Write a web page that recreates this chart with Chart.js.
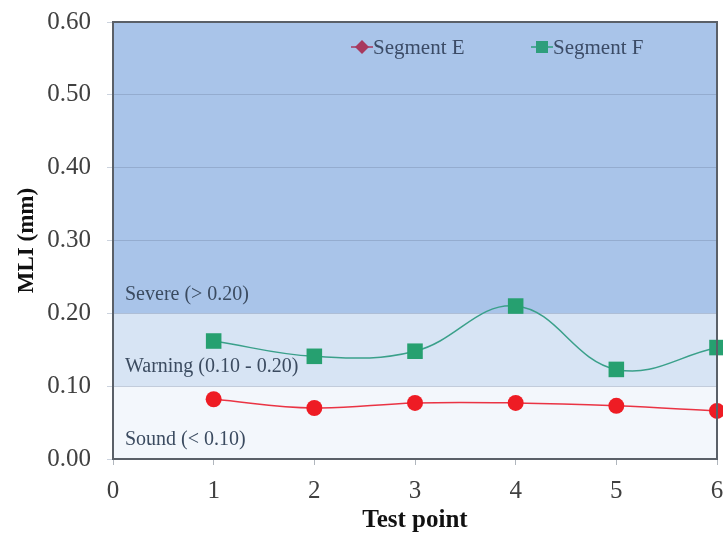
<!DOCTYPE html>
<html>
<head>
<meta charset="utf-8">
<script src="https://cdn.jsdelivr.net/npm/chart.js@4/dist/chart.umd.min.js"></script>
<style>
html,body{margin:0;padding:0;background:#fff;}
#wrap{width:723px;height:534px;}
</style>
</head>
<body>
<div id="wrap"><canvas id="c" width="723" height="534"></canvas></div>
<script>
const testPoints = [1, 2, 3, 4, 5, 6];
const segmentE = [0.082, 0.070, 0.077, 0.077, 0.073, 0.066];
const segmentF = [0.162, 0.141, 0.148, 0.210, 0.123, 0.153];
const yTicks = [0.0, 0.1, 0.2, 0.3, 0.4, 0.5, 0.6];
const bandEdges = [0.0, 0.10, 0.20, 0.60];
const bandLabels = ['Sound (< 0.10)', 'Warning (0.10 - 0.20)', 'Severe (> 0.20)'];
const bandColors = ['#f3f7fc', '#d7e4f4', '#a9c4e9'];

const serif = '"Liberation Serif", "Times New Roman", serif';

const bandsPlugin = {
  id: 'bands',
  beforeDraw(chart) {
    const {ctx, chartArea: a, scales: {y}} = chart;
    ctx.save();
    for (let i = 0; i < bandColors.length; i++) {
      const top = y.getPixelForValue(bandEdges[i + 1]);
      const bot = y.getPixelForValue(bandEdges[i]);
      ctx.fillStyle = bandColors[i];
      ctx.fillRect(a.left, top, a.right - a.left, bot - top);
    }
    ctx.restore();
  },
  afterDatasetsDraw(chart) {
    const {ctx, chartArea: a, scales: {y}} = chart;
    ctx.save();
    ctx.font = '20px ' + serif;
    ctx.fillStyle = '#3b4b60';
    ctx.textBaseline = 'middle';
    ctx.textAlign = 'left';
    for (let i = 0; i < bandLabels.length; i++) {
      const yp = y.getPixelForValue(bandEdges[i] + 0.026);
      ctx.fillText(bandLabels[i], a.left + 12, yp);
    }
    // border
    ctx.strokeStyle = '#5a6068';
    ctx.lineWidth = 2;
    ctx.strokeRect(a.left, a.top, a.right - a.left, a.bottom - a.top);
    // legend
    const items = [
      {label: 'Segment E', color: '#a8395e', style: 'diamond', x: a.left + 249},
      {label: 'Segment F', color: '#2e9e7c', style: 'square', x: a.left + 429}
    ];
    const ly = a.top + 25;
    ctx.font = '21px ' + serif;
    items.forEach(it => {
      ctx.strokeStyle = it.color;
      ctx.lineWidth = 1.5;
      ctx.beginPath();
      ctx.moveTo(it.x - 11, ly);
      ctx.lineTo(it.x + 11, ly);
      ctx.stroke();
      ctx.fillStyle = it.color;
      ctx.beginPath();
      if (it.style === 'diamond') {
        ctx.moveTo(it.x, ly - 7); ctx.lineTo(it.x + 7, ly); ctx.lineTo(it.x, ly + 7); ctx.lineTo(it.x - 7, ly);
      } else {
        ctx.rect(it.x - 6, ly - 6, 12, 12);
      }
      ctx.closePath();
      ctx.fill();
      ctx.fillStyle = '#3b4b66';
      ctx.fillText(it.label, it.x + 11, ly + 1);
    });
    ctx.restore();
  }
};

new Chart(document.getElementById('c'), {
  type: 'line',
  data: {
    datasets: [
      {
        label: 'Segment E',
        data: testPoints.map((x, i) => ({x, y: segmentE[i]})),
        borderColor: '#ea3444',
        backgroundColor: '#ee1c24',
        borderWidth: 1.5,
        pointStyle: 'circle',
        pointRadius: 8,
        pointBorderWidth: 0,
        tension: 0.4,
        clip: false
      },
      {
        label: 'Segment F',
        data: testPoints.map((x, i) => ({x, y: segmentF[i]})),
        borderColor: '#3aa08a',
        backgroundColor: '#26a070',
        borderWidth: 1.5,
        pointStyle: 'rect',
        pointRadius: 11,
        pointBorderWidth: 0,
        tension: 0.4,
        clip: false
      }
    ]
  },
  options: {
    responsive: false,
    animation: false,
    devicePixelRatio: 1,
    layout: {autoPadding: false, padding: {top: 22, right: 6, left: 0, bottom: 0}},
    plugins: {legend: {display: false}, tooltip: {enabled: false}},
    scales: {
      x: {
        type: 'linear',
        min: 0, max: 6,
        ticks: {stepSize: 1, color: '#404040', font: {family: serif, size: 25}, padding: 11},
        grid: {drawOnChartArea: false, tickLength: 6, color: '#b0b6bd'},
        border: {display: false},
        title: {display: true, text: 'Test point', color: '#111', font: {family: serif, size: 25, weight: 'bold'}, padding: {top: 0, bottom: -2}},
        afterFit(s) { s.height = 75; s.paddingLeft = 0; s.paddingRight = 0; }
      },
      y: {
        min: 0, max: 0.6,
        afterBuildTicks(s) { s.ticks = yTicks.map(v => ({value: v})); },
        ticks: {color: '#404040', font: {family: serif, size: 25}, padding: 16, callback: v => Number(v).toFixed(2)},
        grid: {color: 'rgba(110,130,160,0.35)', tickLength: 6, lineWidth: 1},
        border: {display: false},
        title: {display: true, text: 'MLI (mm)', color: '#111', font: {family: serif, size: 23, weight: 'bold'}, padding: {top: 13, bottom: 0}},
        afterFit(s) { s.width = 113; s.paddingTop = 0; s.paddingBottom = 0; }
      }
    }
  },
  plugins: [bandsPlugin]
});
</script>
</body>
</html>
